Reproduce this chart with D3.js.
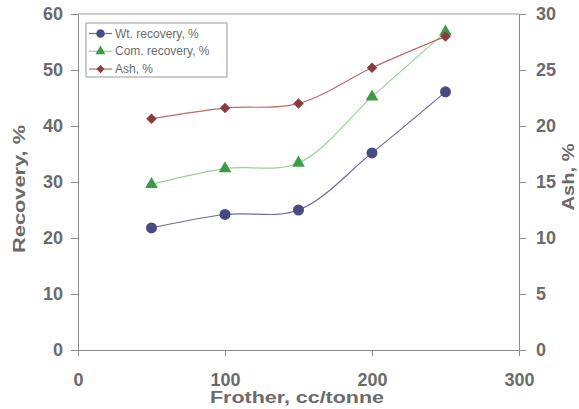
<!DOCTYPE html>
<html>
<head>
<meta charset="utf-8">
<script src="https://cdn.jsdelivr.net/npm/d3@7"></script>
<style>
  body { margin: 0; background: #fff; }
  text { font-family: Arial, "Liberation Sans", sans-serif; }
</style>
</head>
<body>
<div id="main"></div>
<script>
// values
let frother = [50, 100, 150, 200, 250];
let wtRecovery = [21.8, 24.2, 25.0, 35.2, 46.1];
let comRecovery = [29.6, 32.4, 33.4, 45.2, 56.8];
let ash = [20.65, 21.6, 22.0, 25.2, 28.0];

let xTicks = [0, 100, 200, 300];
let yTicks = [0, 10, 20, 30, 40, 50, 60];
let ashTicks = [0, 5, 10, 15, 20, 25, 30];

let [width, height] = [579, 409];
let margin = {left: 78, right: 60, top: 14, bottom: 59};

let svg = d3.select('#main')
  .append('svg')
  .attr('width', width)
  .attr('height', height);

let sx = d3.scaleLinear().domain([0, 300]).range([margin.left, width - margin.right]);
let sy = d3.scaleLinear().domain([0, 60]).range([height - margin.bottom, margin.top]);
let sa = d3.scaleLinear().domain([0, 30]).range([height - margin.bottom, margin.top]);

let axisCol = '#8a8a8a';
let textCol = '#6b6b6b';

// frame top line
svg.append('line')
  .attr('x1', sx(0)).attr('x2', sx(300))
  .attr('y1', sy(60)).attr('y2', sy(60))
  .attr('stroke', '#999').attr('stroke-width', 1);

function styleAxis(g){
  g.select('.domain').attr('stroke', axisCol);
  g.selectAll('.tick line').attr('stroke', axisCol);
  g.selectAll('.tick text')
    .attr('fill', textCol)
    .style('font-size', '18px')
    .style('font-weight', 'bold');
}

svg.append('g')
  .attr('transform', `translate(0,${sy(0)})`)
  .call(d3.axisBottom(sx).tickValues(xTicks).tickSize(6).tickSizeOuter(0).tickPadding(17))
  .call(styleAxis);

svg.append('g')
  .attr('transform', `translate(${sx(0)},0)`)
  .call(d3.axisLeft(sy).tickValues(yTicks).tickSize(7).tickSizeOuter(0).tickPadding(8))
  .call(styleAxis);

svg.append('g')
  .attr('transform', `translate(${sx(300)},0)`)
  .call(d3.axisRight(sa).tickValues(ashTicks).tickSize(7).tickSizeOuter(0).tickPadding(10))
  .call(styleAxis);

// axis titles
svg.append('text')
  .attr('x', 297).attr('y', 403)
  .attr('text-anchor', 'middle')
  .attr('fill', textCol)
  .style('font-size', '16px').style('font-weight', 'bold')
  .attr('textLength', 174).attr('lengthAdjust', 'spacingAndGlyphs')
  .text('Frother, cc/tonne');

svg.append('text')
  .attr('transform', 'translate(25,189) rotate(-90)')
  .attr('text-anchor', 'middle')
  .attr('fill', textCol)
  .style('font-size', '16px').style('font-weight', 'bold')
  .attr('textLength', 128).attr('lengthAdjust', 'spacingAndGlyphs')
  .text('Recovery, %');

svg.append('text')
  .attr('transform', 'translate(574,177) rotate(-90)')
  .attr('text-anchor', 'middle')
  .attr('fill', textCol)
  .style('font-size', '16px').style('font-weight', 'bold')
  .attr('textLength', 67).attr('lengthAdjust', 'spacingAndGlyphs')
  .text('Ash, %');

let series = [
  {name: 'Wt. recovery, %', values: wtRecovery, scale: sy, line: '#6c6c9c', fill: '#4a4a82', shape: d3.symbolCircle, size: 95, rot: 0},
  {name: 'Com. recovery, %', values: comRecovery, scale: sy, line: '#9ccf98', fill: '#3f9a45', shape: d3.symbolTriangle, size: 70, rot: 0},
  {name: 'Ash, %', values: ash, scale: sa, line: '#c06a6a', fill: '#8a3b3d', shape: d3.symbolSquare, size: 55, rot: 45},
];

let lineGen = d3.line().curve(d3.curveCatmullRom.alpha(0.5));

for(let s of series){
  let pts = frother.map((f, i) => [sx(f), s.scale(s.values[i])]);
  svg.append('path')
    .attr('d', lineGen(pts))
    .attr('fill', 'none')
    .attr('stroke', s.line)
    .attr('stroke-width', 1.2);
  svg.selectAll(null)
    .data(pts)
    .join('path')
    .attr('transform', d => `translate(${d[0]},${d[1]}) rotate(${s.rot})`)
    .attr('d', d3.symbol(s.shape, s.size))
    .attr('fill', s.fill);
}

// legend
let lg = svg.append('g');
lg.append('rect')
  .attr('x', 86).attr('y', 23)
  .attr('width', 141).attr('height', 54)
  .attr('fill', '#fff')
  .attr('stroke', '#999').attr('stroke-width', 1);

series.forEach((s, i) => {
  let y = 33.5 + i * 17.8;
  lg.append('line')
    .attr('x1', 89).attr('x2', 112)
    .attr('y1', y).attr('y2', y)
    .attr('stroke', s.line).attr('stroke-width', 1.2);
  lg.append('path')
    .attr('transform', `translate(100.5,${y}) rotate(${s.rot})`)
    .attr('d', d3.symbol(s.shape, s.size * 0.6))
    .attr('fill', s.fill);
  lg.append('text')
    .attr('x', 115).attr('y', y + 4)
    .attr('fill', textCol)
    .style('font-size', '12px')
    .text(s.name);
});
</script>
</body>
</html>
